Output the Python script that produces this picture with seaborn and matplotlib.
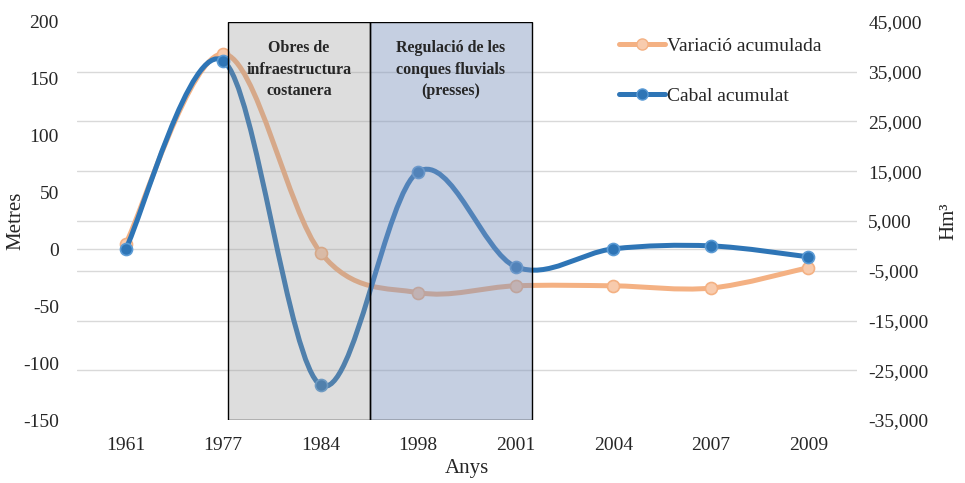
import numpy as np
import pandas as pd
import matplotlib
matplotlib.use("Agg")
import matplotlib.pyplot as plt
import seaborn as sns
from matplotlib.path import Path
from matplotlib.patches import PathPatch, Rectangle
from matplotlib.lines import Line2D
from matplotlib.ticker import FuncFormatter


YEARS = ["1961", "1977", "1984", "1998", "2001", "2004", "2007", "2009"]
VARIACIO = [5, 172, -3, -38, -32, -32, -34, -16]          # metres (left axis)
CABAL = [-600, 37200, -28000, 14900, -4200, -600, 0, -2200]  # Hm3 (right axis)

LEFT_TICKS = [-150, -100, -50, 0, 50, 100, 150, 200]
RIGHT_TICKS = [-35000, -25000, -15000, -5000, 5000, 15000, 25000, 35000, 45000]

ORANGE = "#F4B183"
ORANGE_LIGHT = "#F8CBAD"
BLUE = "#2E75B6"
BLUE_LIGHT = "#5B9BD5"
GRID = "#D9D9D9"


def smooth_path(x, y):
    # Excel-like smoothed line (Catmull-Rom as cubic bezier)
    pts = np.column_stack([x, y]).astype(float)
    n = len(pts)
    verts = [pts[0]]
    codes = [Path.MOVETO]
    for i in range(n - 1):
        p0 = pts[max(i - 1, 0)]
        p1 = pts[i]
        p2 = pts[i + 1]
        p3 = pts[min(i + 2, n - 1)]
        verts += [p1 + (p2 - p0) / 6, p2 - (p3 - p1) / 6, p2]
        codes += [Path.CURVE4] * 3
    return Path(verts, codes)


def main():
    df = pd.DataFrame({"any": YEARS, "variacio": VARIACIO, "cabal": CABAL})
    pos = np.arange(len(YEARS))

    sns.set_style("white")
    plt.rcParams["font.family"] = ["Liberation Serif", "DejaVu Serif"]
    plt.rcParams["axes.unicode_minus"] = False

    fig = plt.figure(figsize=(9.65, 4.83), dpi=100)
    ax = fig.add_axes([0.0798, 0.1304, 0.8083, 0.8241])
    ax2 = ax.twinx()

    ax.set_xlim(-0.5, len(YEARS) - 0.5)
    ax.set_ylim(-150, 200)
    ax2.set_ylim(-35000, 45000)

    # gridlines follow the right axis ticks
    lo, hi = ax.get_ylim()
    lo2, hi2 = ax2.get_ylim()
    grid_pos = [lo + (t - lo2) * (hi - lo) / (hi2 - lo2) for t in RIGHT_TICKS]
    ax.set_yticks(grid_pos, minor=True)
    ax.grid(axis="y", which="minor", color=GRID, linewidth=1)
    ax.grid(axis="y", which="major", visible=False)
    ax.axhline(0, color=GRID, linewidth=1, zorder=0.5)
    ax.set_axisbelow(True)

    # orange series (metres)
    ax.add_patch(PathPatch(smooth_path(pos, df["variacio"]), fill=False,
                           edgecolor=ORANGE, linewidth=3.6, capstyle="round", zorder=2))
    sns.scatterplot(data=df, x="any", y="variacio", ax=ax, s=75, color=ORANGE_LIGHT,
                    edgecolor=ORANGE, linewidth=1.2, zorder=3, legend=False)

    # blue series (Hm3)
    ax2.add_patch(PathPatch(smooth_path(pos, df["cabal"]), fill=False,
                            edgecolor=BLUE, linewidth=3.6, capstyle="round", zorder=2))
    sns.scatterplot(data=df, x="any", y="cabal", ax=ax2, s=75, color=BLUE,
                    edgecolor=BLUE_LIGHT, linewidth=1.2, zorder=3, legend=False)

    # period boxes on top of the lines
    ax2.add_patch(Rectangle((1.05, -35000), 1.45, 80000, facecolor="#989898", alpha=0.32,
                            edgecolor="none", zorder=4))
    ax2.add_patch(Rectangle((2.5, -35000), 1.67, 80000, facecolor="#7F95BD", alpha=0.45,
                            edgecolor="none", zorder=4))
    ax2.add_patch(Rectangle((1.05, -35000), 1.45, 80000, fill=False, edgecolor="black",
                            linewidth=1, zorder=5))
    ax2.add_patch(Rectangle((2.5, -35000), 1.67, 80000, fill=False, edgecolor="black",
                            linewidth=1, zorder=5))
    ax2.text(1.775, 41300, "Obres de\ninfraestructura\ncostanera", ha="center", va="top",
             fontsize=11.5, fontweight="bold", linespacing=1.45, zorder=6)
    ax2.text(3.335, 41300, "Regulació de les\nconques fluvials\n(presses)", ha="center",
             va="top", fontsize=11.5, fontweight="bold", linespacing=1.45, zorder=6)

    ax.set_yticks(LEFT_TICKS)
    ax2.set_yticks(RIGHT_TICKS)
    ax2.yaxis.set_major_formatter(FuncFormatter(lambda v, _: f"{v:,.0f}"))
    ax.set_xticks(pos)
    ax.set_xticklabels(YEARS)

    ax.tick_params(axis="y", which="both", length=0, pad=13, labelsize=14)
    ax.tick_params(axis="x", length=0, pad=12, labelsize=14)
    ax2.tick_params(axis="y", length=0, pad=8, labelsize=14)

    ax.set_xlabel("Anys", fontsize=15)
    ax.xaxis.set_label_coords(0.5, -0.097)
    ax.set_ylabel("Metres", fontsize=15)
    ax.yaxis.set_label_coords(-0.066, 0.5)
    ax2.set_ylabel("Hm³", fontsize=15, labelpad=8)

    for a in (ax, ax2):
        for s in a.spines.values():
            s.set_visible(False)

    handles = [
        Line2D([], [], color=ORANGE, linewidth=3.6, marker="o", markersize=8,
               markerfacecolor=ORANGE_LIGHT, markeredgecolor=ORANGE),
        Line2D([], [], color=BLUE, linewidth=3.6, marker="o", markersize=8,
               markerfacecolor=BLUE, markeredgecolor=BLUE_LIGHT),
    ]
    ax2.legend(handles, ["Variació acumulada", "Cabal acumulat"], loc="upper left",
               bbox_to_anchor=(0.672, 1.005), frameon=False, fontsize=14,
               handlelength=2.4, handletextpad=0.1, labelspacing=1.65)

    fig.savefig("out.png", dpi=100)
    plt.close(fig)


if __name__ == "__main__":
    main()
